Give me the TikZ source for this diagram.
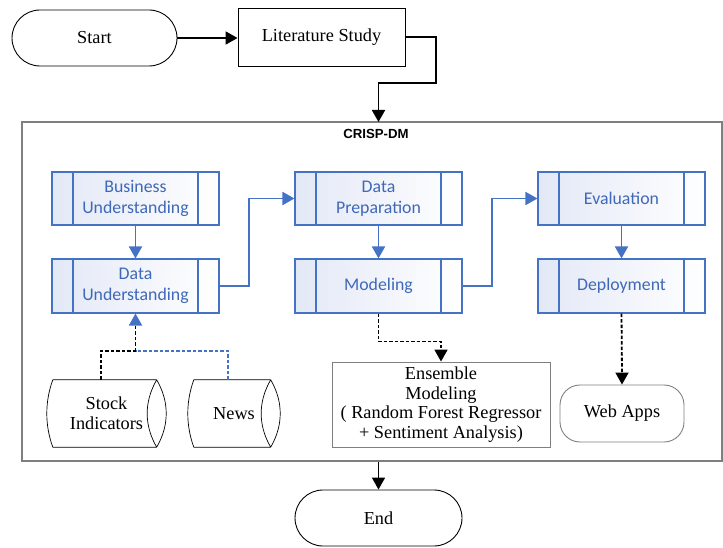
\documentclass[tikz,border=0pt]{standalone}
\usepackage{fontspec}
\setmainfont{Liberation Serif}
\newfontfamily\calib{Carlito}
\newfontfamily\arialf{Liberation Sans}
\usetikzlibrary{shapes.geometric,shapes.misc,arrows.meta,calc}
\definecolor{pblue}{HTML}{4472C4}
\definecolor{ptext}{HTML}{3E68B8}
\definecolor{pfill}{HTML}{E3E8F6}
\definecolor{cgray}{HTML}{7F7F7F}
\begin{document}
\begin{tikzpicture}[x=1pt,y=-1pt,
  txt/.style={font=\fontsize{18.3}{19.7}\selectfont},
  term/.style={draw=black, line width=0.9pt, rounded rectangle, minimum width=167, minimum height=56, inner sep=0pt, txt},
  plain/.style={draw=black, line width=0.9pt, rectangle, minimum width=167, minimum height=58, inner sep=0pt, txt},
  proc/.style={draw=pblue, line width=1.1pt, rectangle, minimum width=167, minimum height=53, inner sep=0pt,
    left color=pfill, right color=white, text=ptext, align=center,
    font=\calib\fontsize{17.8}{21}\selectfont,
    path picture={\draw[pblue, line width=1.1pt] ([xshift=21pt]path picture bounding box.north west) -- ([xshift=21pt]path picture bounding box.south west);
                  \draw[pblue, line width=1.1pt] ([xshift=-21pt]path picture bounding box.north east) -- ([xshift=-21pt]path picture bounding box.south east);}},
  gbox/.style={draw=cgray, line width=0.9pt, rectangle, inner sep=0pt, align=center, txt},
  drum/.style={rectangle, minimum height=67, inner sep=0pt, align=center, txt},
  drumline/.style={draw=black, line width=0.7pt},
  tip/.style={-{Triangle[length=12pt,width=13pt]}},
  blk/.style={draw=black, line width=1.8pt, tip},
  blu/.style={draw=pblue, line width=1.8pt, tip},
  dsh/.style={line width=1.8pt, dash pattern=on 3.5pt off 2pt},
]
\useasboundingbox (0,0) rectangle (723,548);

% container
\node[draw=cgray, line width=1.4pt, rectangle, minimum width=700, minimum height=339, inner sep=0pt] (crisp) at (372,291.5) {};
\node[font=\arialf\bfseries\fontsize{13.2}{15}\selectfont] (crisplbl) at (376,134) {CRISP-DM};

% top
\node[term] (start) at (94.5,38) [minimum width=165] {Start};
\node[plain] (lit) at (321.5,37) {Literature Study};
\node[term] (endn) at (378.5,518) {End};

% process boxes
\node[proc] (bu) at (135.5,198.5) {Business\\Understanding};
\node[proc, minimum height=54] (du) at (135.5,286) {Data\\Understanding};
\node[proc] (dp) at (378.5,198.5) {Data\\Preparation};
\node[proc, minimum height=54] (mod) at (378.5,286) {Modeling};
\node[proc] (ev) at (621.5,198.5) {Evaluation};
\node[proc, minimum height=54] (dep) at (621.5,286) {Deployment};

% data sources (drums)
\node[drum, minimum width=119] (stock) at (106.5,413.5) {Stock\\Indicators};
\node[drum, minimum width=92] (news) at (234,413.5) {News};
\foreach \d in {stock, news}{
  \draw[drumline] ([xshift=6pt]\d.north west) -- ([xshift=-9.5pt]\d.north east)
                  ([xshift=-9.5pt]\d.south east) -- ([xshift=6pt]\d.south west)
                  ([xshift=6pt]\d.north west) .. controls +(-8,22) and +(-8,-22) .. ([xshift=6pt]\d.south west)
                  ([xshift=-9.5pt]\d.north east) .. controls +(-12.7,22) and +(-12.7,-22) .. ([xshift=-9.5pt]\d.south east)
                  ([xshift=-9.5pt]\d.north east) .. controls +(12.7,22) and +(12.7,-22) .. ([xshift=-9.5pt]\d.south east);
}

% outputs
\node[gbox, minimum width=218, minimum height=85] (ens) at (441,404.5) {Ensemble\\Modeling\\( Random Forest Regressor\\+ Sentiment Analysis)};
\node[gbox, rounded corners=20pt, minimum width=124, minimum height=57] (web) at (622,413.5) {Web Apps};

% connectors
\draw[blk] (start.east) -- (lit.west |- start.east);
\coordinate (ct) at (378.5,122);
\draw[blk] (lit.east) -| (436,83) -| (ct);
\draw[blk] (crisp.south -| endn.north) -- (endn.north);

\draw[blu] (bu.south) -- (du.north);
\draw[blu] (dp.south) -- (mod.north);
\draw[blu] (ev.south) -- (dep.north);
\draw[blu] (du.east) -- (249,286) |- (dp.west);
\draw[blu] (mod.east) -- (492,286) |- (ev.west);

\coordinate (j) at (135.5,351);
\draw[dsh, black] ([xshift=-5.5pt]stock.north) |- (j);
\draw[dsh, pblue] ([xshift=-6pt]news.north) |- (j);
\draw[dsh, black] (j) -- ($(du.south)+(0,10)$);
\draw[draw=pblue, line width=1.8pt, tip] ($(du.south)+(0,10)$) -- (du.south);

\draw[dsh, black] (mod.south) -- ++(0,28) -| ($(ens.north)+(0,-11)$);
\draw[black, line width=1.8pt, tip] ($(ens.north)+(0,-11)$) -- (ens.north);
\draw[dsh, black] (dep.south) -- ($(web.north)+(0,-11)$);
\draw[black, line width=1.8pt, tip] ($(web.north)+(0,-11)$) -- (web.north);
\end{tikzpicture}
\end{document}
